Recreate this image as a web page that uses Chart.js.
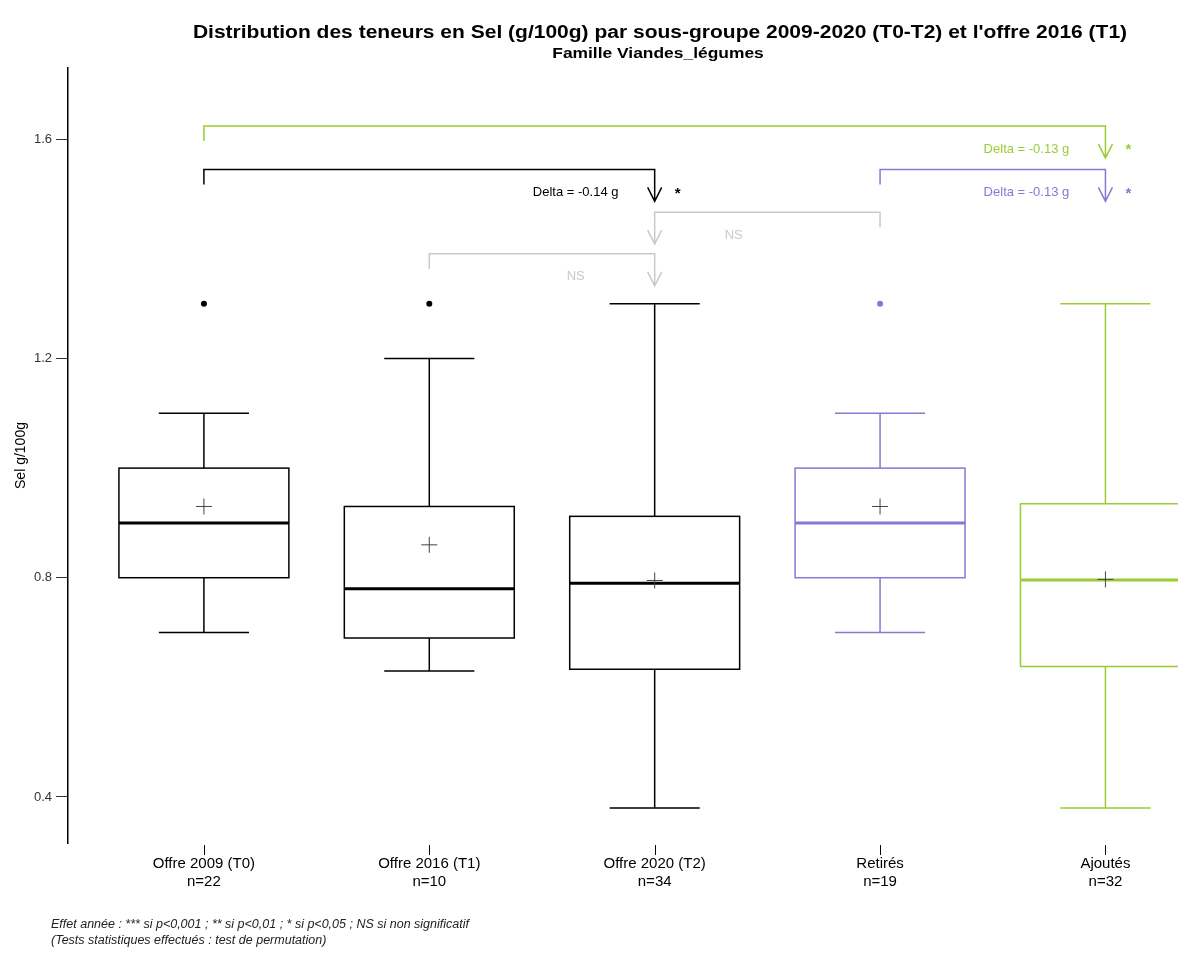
<!DOCTYPE html>
<html lang="fr">
<head>
<meta charset="utf-8">
<title>Distribution des teneurs en Sel</title>
<script src="https://cdn.jsdelivr.net/npm/chart.js@4.4.1/dist/chart.umd.min.js"></script>
<style>
  html, body { margin: 0; padding: 0; background: #fff; }
</style>
</head>
<body>
<canvas id="graphique" width="1178" height="953"></canvas>
<script>
// --- DONNÉES ---
const categories = ['Offre 2009 (T0)', 'Offre 2016 (T1)', 'Offre 2020 (T2)', 'Retirés', 'Ajoutés'];
const effectifs = [22, 10, 34, 19, 32];
const minimums = [0.70, 0.63, 0.38, 0.70, 0.38];
const quartile1 = [0.80, 0.69, 0.633, 0.80, 0.638];
const medianes = [0.90, 0.78, 0.79, 0.90, 0.796];
const moyennes = [0.93, 0.86, 0.795, 0.93, 0.797];
const quartile3 = [1.00, 0.93, 0.912, 1.00, 0.935];
const maximums = [1.10, 1.20, 1.30, 1.10, 1.30];
const atypiques = [[1.3], [1.3], [], [1.3], []];
const ticksY = [0.4, 0.8, 1.2, 1.6];

const VERT = '#9acd32';
const VIOLET = '#8a76d3';
const GRIS = '#c9c9c9';
const couleurs = ['#000', '#000', '#000', VIOLET, VERT];

// Comparaisons : groupe de référence -> groupe fléché
const comparaisons = [
  { de: 0, vers: 4, texte: 'Delta = -0.13 g', signif: '*', couleur: VERT, niveau: 1.624 },
  { de: 0, vers: 2, texte: 'Delta = -0.14 g', signif: '*', couleur: '#000', niveau: 1.545 },
  { de: 3, vers: 4, texte: 'Delta = -0.13 g', signif: '*', couleur: VIOLET, niveau: 1.545 },
  { de: 3, vers: 2, texte: 'NS', signif: '', couleur: GRIS, niveau: 1.467 },
  { de: 1, vers: 2, texte: 'NS', signif: '', couleur: GRIS, niveau: 1.391 }
];

const POLICE = 'Arial, "Liberation Sans", sans-serif';

// texte légèrement étiré horizontalement, comme sur l'original
function texteEtire(ctx, txt, x, y, etirement) {
  ctx.save();
  ctx.translate(x, y);
  ctx.scale(etirement, 1);
  ctx.fillText(txt, 0, 0);
  ctx.restore();
}

// --- BOÎTES À MOUSTACHES ---
const pluginBoites = {
  id: 'boites',
  beforeDatasetsDraw(chart) {
    const { ctx, scales: { x, y } } = chart;
    ctx.save();
    ctx.lineCap = 'butt';
    categories.forEach((c, i) => {
      const cx = x.getPixelForValue(i);
      const g = x.getPixelForValue(i - 0.377);
      const d = x.getPixelForValue(i + 0.377);
      const capG = x.getPixelForValue(i - 0.2);
      const capD = x.getPixelForValue(i + 0.2);
      const yQ1 = y.getPixelForValue(quartile1[i]);
      const yQ3 = y.getPixelForValue(quartile3[i]);
      const yMin = y.getPixelForValue(minimums[i]);
      const yMax = y.getPixelForValue(maximums[i]);
      const yMed = y.getPixelForValue(medianes[i]);
      ctx.strokeStyle = couleurs[i];
      ctx.lineWidth = 1.5;
      // moustaches
      ctx.beginPath();
      ctx.moveTo(cx, yQ3); ctx.lineTo(cx, yMax);
      ctx.moveTo(capG, yMax); ctx.lineTo(capD, yMax);
      ctx.moveTo(cx, yQ1); ctx.lineTo(cx, yMin);
      ctx.moveTo(capG, yMin); ctx.lineTo(capD, yMin);
      ctx.stroke();
      // boîte
      ctx.strokeRect(g, yQ3, d - g, yQ1 - yQ3);
      // médiane
      ctx.lineWidth = 3;
      ctx.beginPath();
      ctx.moveTo(g, yMed); ctx.lineTo(d, yMed);
      ctx.stroke();
    });
    ctx.restore();
  }
};

// --- COMPARAISONS, TITRES, NOTES ---
const pluginTextes = {
  id: 'textes',
  afterDraw(chart) {
    const { ctx, scales: { x, y } } = chart;
    ctx.save();
    comparaisons.forEach(cp => {
      const xDe = x.getPixelForValue(cp.de);
      const xVers = x.getPixelForValue(cp.vers);
      const y0 = y.getPixelForValue(cp.niveau);
      ctx.strokeStyle = cp.couleur;
      ctx.lineWidth = 1.5;
      ctx.beginPath();
      ctx.moveTo(xDe, y0 + 15); ctx.lineTo(xDe, y0);
      ctx.lineTo(xVers, y0); ctx.lineTo(xVers, y0 + 32);
      ctx.moveTo(xVers - 7, y0 + 18); ctx.lineTo(xVers, y0 + 32); ctx.lineTo(xVers + 7, y0 + 18);
      ctx.stroke();
      const sens = Math.sign(cp.de - cp.vers);
      ctx.fillStyle = cp.couleur;
      ctx.font = '13px ' + POLICE;
      ctx.textAlign = 'center';
      ctx.textBaseline = 'middle';
      ctx.fillText(cp.texte, xVers + 79 * sens, y0 + 23);
      if (cp.signif) {
        ctx.font = 'bold 15px ' + POLICE;
        ctx.fillText(cp.signif, xVers + 23, y0 + 24);
      }
    });

    // graduations de l'axe X (légèrement détachées de la zone de tracé)
    ctx.strokeStyle = '#000';
    ctx.lineWidth = 1;
    categories.forEach((c, i) => {
      const px = Math.round(x.getPixelForValue(i)) + 0.5;
      ctx.beginPath();
      ctx.moveTo(px, chart.chartArea.bottom + 2);
      ctx.lineTo(px, chart.chartArea.bottom + 12);
      ctx.stroke();
    });

    ctx.fillStyle = '#000';
    ctx.textAlign = 'center';
    ctx.textBaseline = 'middle';
    ctx.font = 'bold 18px ' + POLICE;
    texteEtire(ctx, "Distribution des teneurs en Sel (g/100g) par sous-groupe 2009-2020 (T0-T2) et l'offre 2016 (T1)", 660, 33, 1.167);
    ctx.font = 'bold 15px ' + POLICE;
    texteEtire(ctx, 'Famille Viandes_légumes', 658, 54, 1.16);

    ctx.textAlign = 'left';
    ctx.fillStyle = '#222';
    ctx.font = 'italic 12.5px ' + POLICE;
    ctx.fillText('Effet année : *** si p<0,001 ; ** si p<0,01 ; * si p<0,05 ; NS si non significatif', 51, 925);
    ctx.fillText('(Tests statistiques effectués : test de permutation)', 51, 941);
    ctx.restore();
  }
};

const pointsAtypiques = [];
const couleursAtypiques = [];
atypiques.forEach((liste, i) => liste.forEach(v => {
  pointsAtypiques.push({ x: i, y: v });
  couleursAtypiques.push(couleurs[i]);
}));

const ctx = document.getElementById('graphique').getContext('2d');
new Chart(ctx, {
  type: 'scatter',
  data: {
    datasets: [
      {
        label: 'Valeurs atypiques',
        data: pointsAtypiques,
        pointRadius: 3,
        pointBackgroundColor: couleursAtypiques,
        pointBorderWidth: 0
      },
      {
        label: 'Moyenne',
        data: moyennes.map((v, i) => ({ x: i, y: v })),
        pointStyle: 'cross',
        pointRadius: 8,
        pointBorderColor: '#444',
        pointBorderWidth: 1
      }
    ]
  },
  options: {
    responsive: false,
    animation: false,
    devicePixelRatio: 1,
    layout: { padding: { top: 68, right: 0, bottom: 0, left: 0 } },
    plugins: {
      legend: { display: false },
      tooltip: { enabled: false }
    },
    scales: {
      x: {
        type: 'linear',
        min: -0.603,
        max: 4.282,
        afterBuildTicks: s => { s.ticks = categories.map((c, i) => ({ value: i })); },
        afterFit: s => { s.height = 110; },
        border: { display: false },
        grid: { display: false, drawTicks: false },
        ticks: {
          autoSkip: false,
          maxRotation: 0,
          padding: 12,
          color: '#000',
          font: { size: 15, family: POLICE },
          callback: v => [categories[v], 'n=' + effectifs[v]]
        }
      },
      y: {
        min: 0.316,
        max: 1.73,
        afterBuildTicks: s => { s.ticks = ticksY.map(v => ({ value: v })); },
        afterFit: s => { s.width = 68; },
        border: { display: true, color: '#000', width: 1.5 },
        grid: { drawOnChartArea: false, drawTicks: true, tickLength: 12, color: '#333' },
        ticks: {
          padding: 4,
          color: '#333',
          font: { size: 13, family: POLICE },
          callback: v => v.toFixed(1)
        },
        title: {
          display: true,
          text: 'Sel g/100g',
          color: '#000',
          font: { size: 14, family: POLICE },
          padding: { top: 13, bottom: 0 }
        }
      }
    }
  },
  plugins: [pluginBoites, pluginTextes]
});
</script>
</body>
</html>
